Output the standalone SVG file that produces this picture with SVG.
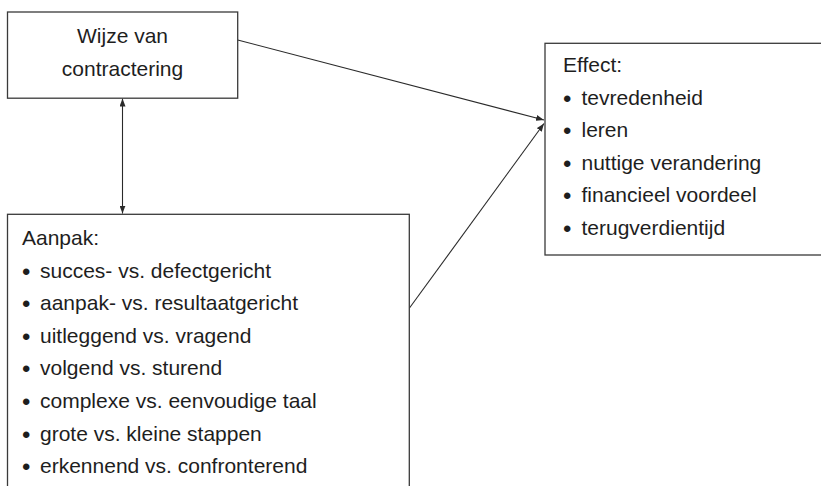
<svg xmlns="http://www.w3.org/2000/svg" width="821" height="486" viewBox="0 0 821 486">
  <style>
    .box { fill: #ffffff; stroke: #3a3a3a; stroke-width: 1.3; }
    .t { font-family: "Liberation Sans", Arial, sans-serif; font-size: 21px; fill: #1e1e1e; }
    .c { text-anchor: middle; }
    .b { font-size: 24px; baseline-shift: -1.5px; }
    .conn { stroke: #2a2a2a; stroke-width: 1.1; fill: none; }
  </style>
  <defs>
    <marker id="ah" viewBox="0 0 8 6" refX="8" refY="3" markerWidth="8" markerHeight="6" markerUnits="userSpaceOnUse" orient="auto-start-reverse">
      <path d="M0,0 L8,3 L0,6 z" fill="#2a2a2a"/>
    </marker>
  </defs>
  <rect width="821" height="486" fill="#ffffff"/>

  <g id="connectors">
    <line class="conn" x1="122.5" y1="98.5" x2="122.5" y2="213.6" marker-start="url(#ah)" marker-end="url(#ah)"/>
    <line class="conn" x1="237.7" y1="40" x2="544" y2="120" marker-end="url(#ah)"/>
    <line class="conn" x1="409.3" y1="308.3" x2="544" y2="123.5" marker-end="url(#ah)"/>
  </g>

  <g id="node-wijze">
    <rect class="box" x="7.5" y="12" width="230.2" height="86.2"/>
    <text class="t c" x="122.5" y="43">Wijze van</text>
    <text class="t c" x="122.5" y="76">contractering</text>
  </g>

  <g id="node-effect">
    <rect class="box" x="545" y="43.3" width="290" height="211.7"/>
    <text class="t" x="563" y="72">Effect:</text>
    <text class="t" x="563" y="104.6"><tspan class="b">•</tspan><tspan x="581.5">tevredenheid</tspan></text>
    <text class="t" x="563" y="137.2"><tspan class="b">•</tspan><tspan x="581.5">leren</tspan></text>
    <text class="t" x="563" y="169.8"><tspan class="b">•</tspan><tspan x="581.5">nuttige verandering</tspan></text>
    <text class="t" x="563" y="202.4"><tspan class="b">•</tspan><tspan x="581.5">financieel voordeel</tspan></text>
    <text class="t" x="563" y="235"><tspan class="b">•</tspan><tspan x="581.5">terugverdientijd</tspan></text>
  </g>

  <g id="node-aanpak">
    <rect class="box" x="7.5" y="214.3" width="401.8" height="290"/>
    <text class="t" x="22" y="245">Aanpak:</text>
    <text class="t" x="22" y="277.6"><tspan class="b">•</tspan><tspan x="40">succes- vs. defectgericht</tspan></text>
    <text class="t" x="22" y="310.2"><tspan class="b">•</tspan><tspan x="40">aanpak- vs. resultaatgericht</tspan></text>
    <text class="t" x="22" y="342.8"><tspan class="b">•</tspan><tspan x="40">uitleggend vs. vragend</tspan></text>
    <text class="t" x="22" y="375.4"><tspan class="b">•</tspan><tspan x="40">volgend vs. sturend</tspan></text>
    <text class="t" x="22" y="408"><tspan class="b">•</tspan><tspan x="40">complexe vs. eenvoudige taal</tspan></text>
    <text class="t" x="22" y="440.6"><tspan class="b">•</tspan><tspan x="40">grote vs. kleine stappen</tspan></text>
    <text class="t" x="22" y="473.2"><tspan class="b">•</tspan><tspan x="40">erkennend vs. confronterend</tspan></text>
  </g>
</svg>
